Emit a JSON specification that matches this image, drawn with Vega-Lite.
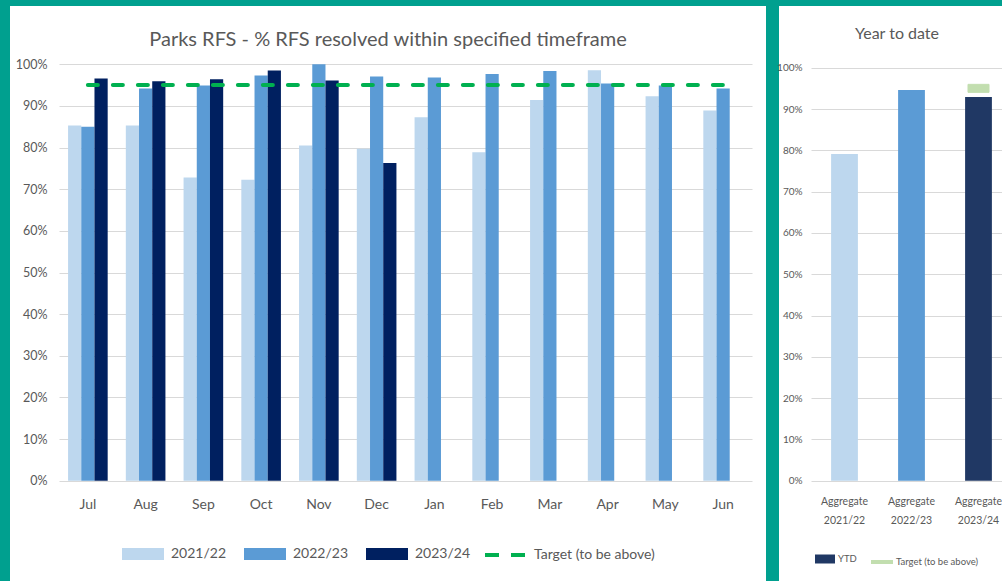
{
  "$schema": "https://vega.github.io/schema/vega-lite/v6.json",
  "background": "#00A08F",
  "padding": {"left": 10, "top": 6, "right": 0, "bottom": 0},
  "bounds": "flush",
  "spacing": 13,
  "resolve": {
    "scale": {"color": "independent", "stroke": "independent"},
    "legend": {"color": "independent", "stroke": "independent"}
  },
  "config": {
    "font": "Lato",
    "view": {"fill": "white", "stroke": null},
    "axis": {"labelColor": "#595959", "domain": false, "ticks": false, "gridColor": "#D9D9D9", "gridWidth": 1, "labelFont": "Lato"},
    "legend": {"labelColor": "#595959", "labelFont": "Lato", "layout": {"bottom": {"anchor": "middle", "direction": "horizontal", "margin": 12}}},
    "title": {"color": "#595959", "font": "Lato", "fontWeight": "normal"}
  },
  "datasets": {
    "monthly": [
      {"month": "Jul", "year": "2021/22", "value": 0.853},
      {"month": "Jul", "year": "2022/23", "value": 0.850},
      {"month": "Jul", "year": "2023/24", "value": 0.966},
      {"month": "Aug", "year": "2021/22", "value": 0.853},
      {"month": "Aug", "year": "2022/23", "value": 0.942},
      {"month": "Aug", "year": "2023/24", "value": 0.959},
      {"month": "Sep", "year": "2021/22", "value": 0.728},
      {"month": "Sep", "year": "2022/23", "value": 0.949},
      {"month": "Sep", "year": "2023/24", "value": 0.964},
      {"month": "Oct", "year": "2021/22", "value": 0.723},
      {"month": "Oct", "year": "2022/23", "value": 0.973},
      {"month": "Oct", "year": "2023/24", "value": 0.985},
      {"month": "Nov", "year": "2021/22", "value": 0.805},
      {"month": "Nov", "year": "2022/23", "value": 1.0},
      {"month": "Nov", "year": "2023/24", "value": 0.961},
      {"month": "Dec", "year": "2021/22", "value": 0.797},
      {"month": "Dec", "year": "2022/23", "value": 0.971},
      {"month": "Dec", "year": "2023/24", "value": 0.763},
      {"month": "Jan", "year": "2021/22", "value": 0.873},
      {"month": "Jan", "year": "2022/23", "value": 0.968},
      {"month": "Feb", "year": "2021/22", "value": 0.789},
      {"month": "Feb", "year": "2022/23", "value": 0.977},
      {"month": "Mar", "year": "2021/22", "value": 0.914},
      {"month": "Mar", "year": "2022/23", "value": 0.984},
      {"month": "Apr", "year": "2021/22", "value": 0.986},
      {"month": "Apr", "year": "2022/23", "value": 0.954},
      {"month": "May", "year": "2021/22", "value": 0.923},
      {"month": "May", "year": "2022/23", "value": 0.949},
      {"month": "Jun", "year": "2021/22", "value": 0.889},
      {"month": "Jun", "year": "2022/23", "value": 0.942}
    ],
    "monthlyTarget": [
      {"month": "Jul", "value": 0.95},
      {"month": "Aug", "value": 0.95},
      {"month": "Sep", "value": 0.95},
      {"month": "Oct", "value": 0.95},
      {"month": "Nov", "value": 0.95},
      {"month": "Dec", "value": 0.95},
      {"month": "Jan", "value": 0.95},
      {"month": "Feb", "value": 0.95},
      {"month": "Mar", "value": 0.95},
      {"month": "Apr", "value": 0.95},
      {"month": "May", "value": 0.95},
      {"month": "Jun", "value": 0.95}
    ],
    "ytd": [
      {"period": "Aggregate 2021/22", "series": "YTD", "value": 0.791},
      {"period": "Aggregate 2022/23", "series": "YTD", "value": 0.946},
      {"period": "Aggregate 2023/24", "series": "YTD", "value": 0.929}
    ],
    "ytdTarget": [
      {"period": "Aggregate 2023/24", "value": 0.95}
    ]
  },
  "hconcat": [
    {
      "width": 756,
      "height": 575,
      "title": {"text": "Parks RFS - % RFS resolved within specified timeframe", "fontSize": 20, "offset": -44, "anchor": "middle"},
      "encoding": {
        "x": {
          "field": "month", "type": "nominal",
          "sort": ["Jul", "Aug", "Sep", "Oct", "Nov", "Dec", "Jan", "Feb", "Mar", "Apr", "May", "Jun"],
          "scale": {"range": [49, 742], "paddingInner": 0.314, "paddingOuter": 0.157},
          "axis": {"title": null, "labelAngle": 0, "offset": -100.3, "labelPadding": 17, "labelFontSize": 14, "grid": false}
        },
        "y": {
          "field": "value", "type": "quantitative",
          "scale": {"domain": [0, 1], "range": [474.7, 58.3], "nice": false},
          "axis": {"title": null, "format": ".0%", "values": [0, 0.1, 0.2, 0.3, 0.4, 0.5, 0.6, 0.7, 0.8, 0.9, 1], "offset": -49, "labelPadding": 12, "labelFontSize": 12.5, "grid": true}
        }
      },
      "layer": [
        {
          "data": {"name": "monthly"},
          "mark": {"type": "bar"},
          "encoding": {
            "xOffset": {"field": "year", "type": "nominal", "sort": ["2021/22", "2022/23", "2023/24"], "scale": {"paddingInner": 0, "paddingOuter": 0}},
            "color": {
              "field": "year", "type": "nominal",
              "scale": {"domain": ["2021/22", "2022/23", "2023/24"], "range": ["#BDD7EE", "#5B9BD5", "#002060"]},
              "legend": {"title": null, "orient": "bottom", "offset": -48, "direction": "horizontal", "symbolType": "M-1,-0.28H1V0.28H-1Z", "symbolSize": 1764, "symbolStrokeWidth": 0, "labelFontSize": 14, "labelOffset": 7, "columnPadding": 17}
            }
          }
        },
        {
          "data": {"name": "monthlyTarget"},
          "mark": {"type": "line", "strokeWidth": 4, "strokeDash": [10, 15], "strokeCap": "round"},
          "encoding": {
            "stroke": {
              "datum": "Target (to be above)", "type": "nominal",
              "scale": {"range": ["#00B050"]},
              "legend": {"title": null, "orient": "bottom", "offset": -48, "symbolType": "stroke", "symbolSize": 1600, "symbolStrokeWidth": 4, "symbolDash": [14, 12], "labelFontSize": 14, "labelOffset": 7}
            }
          }
        }
      ]
    },
    {
      "width": 236,
      "height": 575,
      "title": {"text": "Year to date", "fontSize": 16, "offset": -36, "anchor": "middle"},
      "encoding": {
        "x": {
          "field": "period", "type": "nominal", "sort": null,
          "scale": {"range": [32, 233], "paddingInner": 0.6, "paddingOuter": 0.3},
          "axis": {"title": null, "labelAngle": 0, "offset": -100.3, "labelExpr": "split(datum.label, ' ')", "labelFontSize": 10.5, "labelLineHeight": 19, "labelPadding": 16, "grid": false}
        },
        "y": {
          "field": "value", "type": "quantitative",
          "scale": {"domain": [0, 1], "range": [474.7, 61.7], "nice": false},
          "axis": {"title": null, "format": ".0%", "values": [0, 0.1, 0.2, 0.3, 0.4, 0.5, 0.6, 0.7, 0.8, 0.9, 1], "offset": -32, "labelPadding": 9, "labelFontSize": 10, "grid": true}
        }
      },
      "layer": [
        {
          "data": {"name": "ytd"},
          "mark": {"type": "bar"},
          "encoding": {
            "color": {
              "field": "series", "type": "nominal",
              "condition": [
                {"test": "datum.period === 'Aggregate 2021/22'", "value": "#BDD7EE"},
                {"test": "datum.period === 'Aggregate 2022/23'", "value": "#5B9BD5"}
              ],
              "scale": {"domain": ["YTD"], "range": ["#203864"]},
              "legend": {"title": null, "orient": "bottom", "offset": -32, "direction": "horizontal", "symbolType": "M-1,-0.45H1V0.45H-1Z", "symbolSize": 400, "symbolStrokeWidth": 0, "labelFontSize": 9.5, "labelOffset": 3}
            }
          }
        },
        {
          "data": {"name": "ytdTarget"},
          "mark": {"type": "tick", "thickness": 8, "size": 21, "color": "#A9D18E"},
          "encoding": {
            "stroke": {
              "datum": "Target (to be above)", "type": "nominal",
              "scale": {"range": ["#A9D18E"]},
              "legend": {"title": null, "orient": "bottom", "offset": -32, "symbolType": "stroke", "symbolSize": 484, "symbolStrokeWidth": 4, "labelFontSize": 9.5, "labelOffset": 1}
            }
          }
        }
      ]
    }
  ]
}
